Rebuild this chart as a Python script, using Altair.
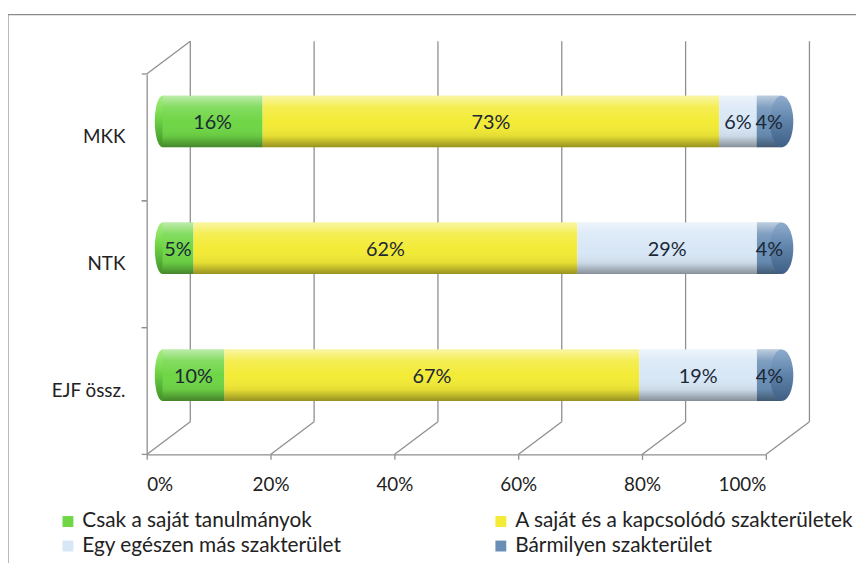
import altair as alt
import pandas as pd

categories = ["MKK", "NTK", "EJF össz."]
series = [
    "Csak a saját tanulmányok",
    "A saját és a kapcsolódó szakterületek",
    "Egy egészen más szakterület",
    "Bármilyen szakterület",
]
v_csak = [16, 5, 10]
v_sajat = [73, 62, 67]
v_mas = [6, 29, 19]
v_barmilyen = [4, 4, 4]
x_ticks = [0, 0.2, 0.4, 0.6, 0.8, 1.0]
colors = ["#6fd646", "#f3eb36", "#d8e7f6", "#6a8fb6"]

rows = []
for s_i, (name, vals) in enumerate(zip(series, [v_csak, v_sajat, v_mas, v_barmilyen])):
    for c, v in zip(categories, vals):
        rows.append({"cat": c, "series": name, "value": v, "order": s_i})
df = pd.DataFrame(rows)
cat_df = pd.DataFrame({"cat": categories})
tick_df = pd.DataFrame({"t": x_ticks})
one = pd.DataFrame({"a": [0]})

W, H = 625, 384
BX, BY = 16, -16          # bar plane offset (mid depth)
DX, DY = 44, -33          # back wall offset
GRAY = "#8f8f8f"
FONT = "Lato"

xs = alt.Scale(domain=[0, 1])
ys = alt.Scale(domain=categories, paddingInner=0, paddingOuter=0)

X_AX = alt.Axis(values=x_ticks, format="%", grid=False, domainColor=GRAY, tickColor=GRAY,
                tickSize=5, labelFontSize=19, labelFont=FONT, labelColor="#222222",
                labelPadding=16, title=None, domainWidth=1.3, tickWidth=1.3)
Y_AX = alt.Axis(title=None, ticks=False, domainColor=GRAY, domainWidth=1.3, labelFontSize=19,
                labelFont=FONT, labelColor="#222222", labelPadding=22)

frame = alt.Chart(one).mark_rect(fillOpacity=0, stroke="#8a8a8a", strokeWidth=1.2).encode(
    x=alt.value(-140), x2=alt.value(730), y=alt.value(-60), y2=alt.value(700))

back_grid = alt.Chart(tick_df).mark_rule(xOffset=DX, color=GRAY, strokeWidth=1.3).encode(
    x=alt.X("t:Q", scale=xs, axis=X_AX), y=alt.value(DY), y2=alt.value(H + DY))

diag = alt.Chart(tick_df).mark_rule(x2Offset=DX, color=GRAY, strokeWidth=1.3).encode(
    x=alt.X("t:Q", scale=xs), x2=alt.X2("t:Q"), y=alt.value(H), y2=alt.value(H + DY))

top_diag = alt.Chart(one).mark_rule(color=GRAY, strokeWidth=1.3).encode(
    x=alt.value(0), x2=alt.value(DX), y=alt.value(0), y2=alt.value(DY))

band_ticks0 = alt.Chart(cat_df).mark_rule(color=GRAY, strokeWidth=1.3).encode(
    x=alt.value(-5), x2=alt.value(0), y=alt.Y("cat:N", scale=ys, sort=categories, bandPosition=0, axis=Y_AX))
band_ticks1 = alt.Chart(cat_df).mark_rule(color=GRAY, strokeWidth=1.3).encode(
    x=alt.value(-5), x2=alt.value(0), y=alt.Y("cat:N", scale=ys, sort=categories, bandPosition=1))

stacked = alt.Chart(df).transform_stack(
    stack="value", as_=["x0", "x1"], groupby=["cat"],
    sort=[alt.SortField("order", order="ascending")], offset="normalize"
)

ELL_L = "M0,-1 A0.3,1 0 1,1 0,1 A0.3,1 0 1,1 0,-1 Z"
ELL_R = "M0,-1 A0.45,1 0 1,1 0,1 A0.45,1 0 1,1 0,-1 Z"

def grad(stops):
    return alt.Gradient(gradient="linear", x1=0, x2=0, y1=0, y2=1,
                        stops=[alt.GradientStop(color=c, offset=o) for o, c in stops])

left_cap = stacked.transform_filter(alt.datum.order == 0).mark_point(
    shape=ELL_L, size=2704, filled=True, opacity=1, strokeWidth=0, xOffset=BX, yOffset=BY,
    color=grad([(0, "#a6ee80"), (0.4, "#74d84a"), (1, "#3f9226")])
).encode(x=alt.X("x0:Q", scale=xs), y=alt.Y("cat:N", scale=ys, sort=categories))

bars = stacked.mark_bar(size=52, xOffset=BX, x2Offset=BX, yOffset=BY, strokeWidth=0).encode(
    x=alt.X("x0:Q", scale=xs),
    x2="x1:Q",
    y=alt.Y("cat:N", scale=ys, sort=categories),
    color=alt.Color("series:N", scale=alt.Scale(domain=series, range=colors),
                    legend=alt.Legend(orient="none", legendX=-90, legendY=441, direction="horizontal",
                                      columns=2, title=None, symbolType="square", symbolSize=121,
                                      symbolStrokeWidth=0, labelFontSize=21, labelFont=FONT,
                                      labelColor="#222222", columnPadding=150, rowPadding=3,
                                      padding=0, labelLimit=500)),
)

shade = alt.Chart(cat_df).transform_calculate(lo="0", hi="1").mark_bar(
    size=52, xOffset=BX, x2Offset=BX, yOffset=BY,
    color=grad([(0, "rgba(255,255,255,0.55)"), (0.22, "rgba(255,255,255,0.15)"),
                (0.5, "rgba(255,255,255,0)"), (0.78, "rgba(0,0,0,0.06)"),
                (1, "rgba(0,0,0,0.38)")])
).encode(x=alt.X("lo:Q", scale=xs), x2="hi:Q", y=alt.Y("cat:N", scale=ys, sort=categories))

right_cap = stacked.transform_filter(alt.datum.order == 3).mark_point(
    shape=ELL_R, size=2704, filled=True, opacity=1, strokeWidth=0, xOffset=BX, yOffset=BY,
    color=grad([(0, "#8eaccd"), (0.45, "#6286ad"), (1, "#3f5f85")])
).encode(x=alt.X("x1:Q", scale=xs), y=alt.Y("cat:N", scale=ys, sort=categories))

labels = stacked.transform_calculate(
    mid="(datum.x0 + datum.x1) / 2", lab="datum.value + '%'"
).mark_text(font=FONT, fontSize=20, color="#1c2836", baseline="middle", xOffset=BX, yOffset=BY + 2).encode(
    x=alt.X("mid:Q", scale=xs), y=alt.Y("cat:N", scale=ys, sort=categories), text="lab:N")

chart = alt.layer(
    frame, back_grid, diag, top_diag, band_ticks0, band_ticks1,
    left_cap, bars, shade, right_cap, labels
).properties(
    width=W, height=H, autosize="none",
    padding={"left": 140, "top": 64, "right": 91, "bottom": 107},
).configure_view(stroke=None)

chart.save("out.html", embed_options={"renderer": "svg", "actions": False})
